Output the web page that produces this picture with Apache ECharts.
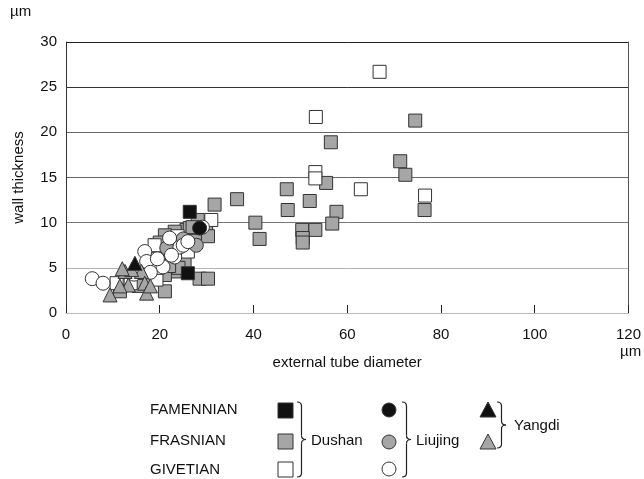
<!DOCTYPE html>
<html><head><meta charset="utf-8">
<script src="https://cdn.jsdelivr.net/npm/echarts@6/dist/echarts.min.js"></script>
<style>html,body{margin:0;padding:0;background:#fff}#c{width:644px;height:479px}</style>
</head><body><div id="c"></div>
<script>
var xTicks = [0, 20, 40, 60, 80, 100, 120];
var yTicks = [0, 5, 10, 15, 20, 25, 30];

// [external tube diameter, wall thickness] in µm
var dushanFamennian = [[26.4,11.2],[26.0,4.4]];
var dushanFrasnian = [[74.5,21.3],[56.5,18.9],[71.3,16.8],[72.4,15.3],[55.5,14.4],[47.1,13.7],[36.5,12.6],[52.0,12.4],[76.5,11.4],[47.3,11.4],[57.7,11.2],[31.7,12.0],[40.4,10.0],[56.8,9.9],[50.4,9.2],[53.2,9.2],[50.5,8.3],[50.5,7.8],[41.3,8.2],[29.9,8.6],[28.5,3.8],[30.3,3.8],
  [28.1,10.3],[25.7,9.2],[23.2,9.0],[21.1,8.6],[19.3,7.5],[21.1,2.4],[23.2,4.6],[21.1,4.2],[25.3,5.7],[26.4,9.4],[29.9,9.4],[30.3,8.5],[22.5,7.0],[24.0,5.0],[21.0,6.5],[18.5,4.5],[11.5,2.4],[17.0,4.0],[27.5,8.0],[20.0,7.8],[20.0,5.5],[15.5,3.0],[22.0,5.2],[27.0,9.5]];
var dushanGivetian = [[66.9,26.7],[53.3,21.7],[53.2,15.6],[53.2,14.9],[62.9,13.7],[76.6,13.0],[31.0,10.3],[26.0,6.8],[19.3,3.7],[10.8,3.3],[18.9,7.5],[17.5,6.0],[23.8,8.5],[19.5,5.0],[13.8,3.3]];
var liujingFamennian = [[28.5,9.4]];
var liujingFrasnian = [[27.8,7.5],[25.0,8.2],[21.5,7.2]];
var liujingGivetian = [[5.6,3.8],[7.9,3.3],[16.8,6.8],[17.2,5.7],[20.7,5.1],[22.1,8.3],[23.2,6.2],[24.3,7.3],[25.0,7.5],[26.0,7.9],[29.1,9.5],[19.5,6.0],[14.5,4.3],[22.5,6.4],[18.0,4.5]];
var yangdiFamennian = [[14.7,5.5]];
var yangdiFrasnian = [[9.4,2.0],[12.6,4.6],[13.3,3.1],[16.1,4.6],[16.8,3.3],[17.2,2.2],[11.5,3.0],[14.0,4.8],[18.0,3.0],[12.0,4.9]];

var FONT = 'Liberation Sans, Arial, sans-serif';
var BLACK = '#111', GRAY = '#a6a6a6', WHITE = '#ffffff', EDGE = '#333';

function ser(name, data, symbol, fill, size) {
  return {name: name, type: 'scatter', data: data, symbol: symbol, symbolSize: size,
    itemStyle: {color: fill, borderColor: EDGE, borderWidth: 1, opacity: 1},
    emphasis: {disabled: true}, animation: false};
}

function brace(x0, y1, y2, w) {
  var ym = (y1 + y2) / 2, xm = x0 + w / 2, x2 = x0 + w, r = 4;
  var st = {stroke: '#222', lineWidth: 1.2, fill: null};
  function q(ax, ay, cx, cy, bx, by) {
    return {type: 'bezierCurve', shape: {x1: ax, y1: ay, cpx1: cx, cpy1: cy, x2: bx, y2: by}, style: st};
  }
  function l(ax, ay, bx, by) {
    return {type: 'line', shape: {x1: ax, y1: ay, x2: bx, y2: by}, style: st};
  }
  return [
    q(x0, y1, xm, y1, xm, y1 + r),
    l(xm, y1 + r, xm, ym - r),
    q(xm, ym - r, xm, ym, x2, ym),
    q(x2, ym, xm, ym, xm, ym + r),
    l(xm, ym + r, xm, y2 - r),
    q(xm, y2 - r, xm, y2, x0, y2)
  ];
}

var txt = function (x, y, s) {
  return {type: 'text', x: x, y: y, style: {text: s, font: '15px ' + FONT, fill: '#111', verticalAlign: 'middle', textVerticalAlign: 'middle'}};
};

var graphic = [
  txt(10, 12, 'µm'),
  txt(620, 352, 'µm'),
  txt(150, 410, 'FAMENNIAN'),
  txt(150, 441, 'FRASNIAN'),
  txt(150, 470, 'GIVETIAN'),
  {type: 'rect', shape: {x: 278, y: 403, width: 15, height: 15}, style: {fill: BLACK, stroke: EDGE, lineWidth: 1}},
  {type: 'rect', shape: {x: 278, y: 434, width: 15, height: 15}, style: {fill: GRAY, stroke: EDGE, lineWidth: 1}},
  {type: 'rect', shape: {x: 278, y: 462, width: 15, height: 15}, style: {fill: WHITE, stroke: EDGE, lineWidth: 1}},
  txt(311, 441, 'Dushan'),
  {type: 'circle', shape: {cx: 389, cy: 410, r: 7}, style: {fill: BLACK, stroke: EDGE, lineWidth: 1}},
  {type: 'circle', shape: {cx: 389, cy: 442, r: 7}, style: {fill: GRAY, stroke: EDGE, lineWidth: 1}},
  {type: 'circle', shape: {cx: 389, cy: 469, r: 7}, style: {fill: WHITE, stroke: EDGE, lineWidth: 1}},
  txt(416, 441, 'Liujing'),
  {type: 'polygon', shape: {points: [[488, 402], [496, 417], [480, 417]]}, style: {fill: BLACK, stroke: EDGE, lineWidth: 1}},
  {type: 'polygon', shape: {points: [[488, 434], [496, 449], [480, 449]]}, style: {fill: GRAY, stroke: EDGE, lineWidth: 1}},
  txt(514, 426, 'Yangdi')
].concat(brace(297, 402, 477, 9), brace(402, 402, 477, 9), brace(497, 402, 448, 9));

var chart = echarts.init(document.getElementById('c'), null, {renderer: 'canvas'});
chart.setOption({
  animation: false,
  textStyle: {fontFamily: FONT},
  grid: {left: 66, right: 14, top: 42, bottom: 166, containLabel: false},
  xAxis: {
    type: 'value', min: xTicks[0], max: xTicks[xTicks.length - 1], interval: 20,
    name: 'external tube diameter', nameLocation: 'middle', nameGap: 42,
    nameTextStyle: {fontSize: 15, color: '#111', fontFamily: FONT},
    axisLine: {show: true, lineStyle: {color: '#bbb', width: 1}},
    axisTick: {show: true, inside: true, length: 8, lineStyle: {color: '#222'}},
    axisLabel: {fontSize: 15, color: '#111', margin: 14, fontFamily: FONT},
    splitLine: {show: false}
  },
  yAxis: [{
    type: 'value', min: yTicks[0], max: yTicks[yTicks.length - 1], interval: 5,
    name: 'wall thickness', nameLocation: 'middle', nameGap: 40, nameRotate: 90,
    nameTextStyle: {fontSize: 15, color: '#111', fontFamily: FONT},
    axisLine: {show: true, lineStyle: {color: '#333', width: 1}},
    axisTick: {show: false},
    axisLabel: {fontSize: 15, color: '#111', margin: 9, fontFamily: FONT},
    splitLine: {show: true, lineStyle: {color: ['#bbb', '#b5b5b5', '#777', '#666', '#666', '#333', '#222'], width: 1}}
  }, {
    type: 'value', position: 'right', min: 0, max: 30, interval: 5,
    axisLine: {show: true, lineStyle: {color: '#555', width: 1}},
    axisTick: {show: false}, axisLabel: {show: false}, splitLine: {show: false}
  }],
  series: [
    ser('Dushan Frasnian', dushanFrasnian, 'rect', GRAY, 13),
    ser('Dushan Givetian', dushanGivetian, 'rect', WHITE, 13),
    ser('Dushan Famennian', dushanFamennian, 'rect', BLACK, 13),
    ser('Liujing Frasnian', liujingFrasnian, 'circle', GRAY, 14),
    ser('Liujing Givetian', liujingGivetian, 'circle', WHITE, 14),
    ser('Liujing Famennian', liujingFamennian, 'circle', BLACK, 14),
    ser('Yangdi Frasnian', yangdiFrasnian, 'triangle', GRAY, 14),
    ser('Yangdi Famennian', yangdiFamennian, 'triangle', BLACK, 14)
  ],
  graphic: graphic
});
</script></body></html>
